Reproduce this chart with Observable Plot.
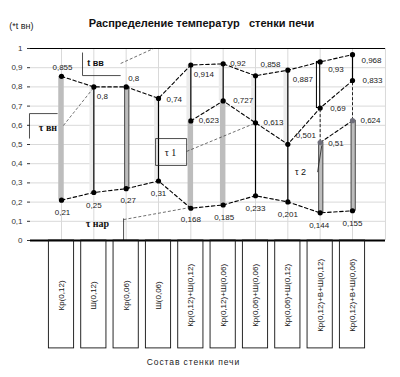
<!DOCTYPE html>
<html><head><meta charset="utf-8">
<script src="https://cdn.jsdelivr.net/npm/d3@7"></script>
<script src="https://cdn.jsdelivr.net/npm/@observablehq/plot@0.6"></script>
<style>body{margin:0;background:#fff;} svg{font-family:"Liberation Sans",Arial,sans-serif;}</style>
</head><body><div id="chart"></div>
<script>
// ---- data ----
const categories = ["Кр(0,12)","Ш(0,12)","Кр(0,06)","Ш(0,06)","Кр(0,12)+Ш(0,12)","Кр(0,12)+Ш(0,06)","Кр(0,06)+Ш(0,06)","Кр(0,06)+Ш(0,12)","Кр(0,12)+В+Ш(0,12)","Кр(0,12)+В+Ш(0,06)"];
const tVn  = [0.855,0.8,0.8,0.74,0.914,0.92,0.858,0.887,0.93,0.968];
const tNar = [0.21,0.25,0.27,0.31,0.168,0.185,0.233,0.201,0.144,0.155];
const tau1 = [null,null,null,null,0.623,0.727,0.613,0.501,0.69,0.833];
const tau2 = [null,null,null,null,null,null,null,null,0.51,0.624];
const yTicks = [0,0.1,0.2,0.3,0.4,0.5,0.6,0.7,0.8,0.9,1];
// layer drawing style per category (outer -> inner)
const layerStyle = [["gray"],["line"],["grayOutline"],["line"],["gray","line"],["gray","line"],["lineOnly","line"],["lineOnly","line"],["grayOutline","gap","box"],["grayOutline","gap","lineOnly"]];
// label placement [anchor, dx, dy]
const tVnPos  = [["middle",1,-9],["start",3,10],["start",2,-8],["start",8,1],["start",3,9],["start",7,0],["start",5,-11],["start",5,9],["start",8,7],["start",9,6]];
const tNarPos = [["middle",1,12],["middle",0,13],["middle",2,12],["middle",0,12],["middle",0,11],["middle",1,12],["middle",0,13],["middle",0,13],["middle",-1,13],["middle",0,13]];
const tau1Pos = [null,null,null,null,["start",8,0],["start",10,0],["start",8,0],["start",8,-9],["start",10,0],["start",10,0]];
const tau2Pos = [null,null,null,null,null,null,null,null,["start",8,1],["start",8,0]];
// annotations (data coordinates)
const annotText = [
  {t:"t вв", x:2.05, y:0.922, font:"Liberation Sans", w:"bold", s:9},
  {t:"τ вн", x:0.58, y:0.585, font:"Liberation Serif", w:"bold", s:10},
  {t:"τ нар", x:2.11, y:0.088, font:"Liberation Serif", w:"bold", s:10},
  {t:"τ 1", x:4.37, y:0.455, font:"Liberation Serif", w:"normal", s:10},
  {t:"τ 2", x:8.39, y:0.354, font:"Liberation Sans", w:"normal", s:9}
];
const annotSegments = [
  [1.65,0.979,1.65,0.859,false],[1.65,0.859,2.83,0.859,false],[2.83,0.922,3.85,1.0,true],
  [0.01,0.661,0.01,0.531,false],[0.01,0.661,0.88,0.661,false],[1.06,0.599,2.0,0.797,true],
  [2.92,0.115,2.92,0.0,false],[2.92,0.109,4.98,0.172,true],
  [3.91,0.531,4.87,0.531,false],[3.91,0.531,3.91,0.391,false],[4.87,0.531,4.87,0.391,false],[3.91,0.391,4.87,0.391,false],[4.87,0.464,7.0,0.612,true],
  [8.92,0.356,9.05,0.495,false]
];

// ---- derived tables ----
function series(vals, pos, name){
  return vals.map((v,i)=>v==null?null:{x:i+1,y:v,s:name,label:String(v).replace(".",","),a:pos[i][0],dx:pos[i][1],dy:pos[i][2]}).filter(d=>d);
}
const sVn = series(tVn,tVnPos,"vn"), sNar = series(tNar,tNarPos,"nar"), s1 = series(tau1,tau1Pos,"t1"), s2 = series(tau2,tau2Pos,"t2");
const layers = [];
layerStyle.forEach((st,i)=>{
  const b = [tNar[i]];
  if (st.length===3) b.push(tau2[i]);
  if (st.length>=2) b.push(tau1[i]);
  b.push(tVn[i]);
  st.forEach((k,j)=>layers.push({cat:i+1,from:b[j],to:b[j+1],kind:k}));
});
const L = k => layers.filter(d=>d.kind===k);
const labels = [...sVn,...sNar,...s1,...s2];
const lineSty = {x:"x",y:"y",stroke:"#000",strokeWidth:1.1,strokeDasharray:"3.5,2.5"};
const fmt = d => d===0?"0":d===1?"1":d.toFixed(1).replace(".",",");

const marks = [
  Plot.ruleY(yTicks.filter(d=>d>0&&d<1),{stroke:"#d9d9d9",strokeWidth:1}),
  Plot.ruleX(categories.map((c,i)=>i+1),{y1:0,y2:1,stroke:"#d9d9d9"}),
  Plot.ruleX([11.02],{y1:0,y2:1,stroke:"#d9d9d9"}),
  Plot.ruleY([1],{stroke:"#000",strokeWidth:1}),
  Plot.axisY({ticks:yTicks,tickFormat:fmt,tickSize:3,tickPadding:5,fontSize:8,color:"#333"}),
  // layers
  Plot.rect(L("gray"),{x1:d=>d.cat-0.085,x2:d=>d.cat+0.085,y1:"from",y2:"to",fill:"#bdbdbd"}),
  Plot.rect(L("grayOutline"),{x1:d=>d.cat-0.03,x2:d=>d.cat+0.1,y1:"from",y2:"to",fill:"#bdbdbd",stroke:"#222",strokeWidth:0.8}),
  Plot.rect(L("line"),{x1:d=>d.cat-0.12,x2:d=>d.cat+0.02,y1:"from",y2:"to",fill:"#ececec"}),
  Plot.ruleX([...L("line"),...L("lineOnly")],{x:"cat",y1:"from",y2:"to",stroke:"#000",strokeWidth:1.2}),
  Plot.ruleX(L("gap"),{x:"cat",y1:"from",y2:"to",stroke:"#222",strokeWidth:1,strokeDasharray:"3,2"}),
  Plot.rect(L("box"),{x1:d=>d.cat-0.1,x2:d=>d.cat,y1:"from",y2:"to",fill:"none",stroke:"#000",strokeWidth:1}),
  // series lines
  Plot.line(sVn,lineSty), Plot.line(sNar,lineSty), Plot.line(s1,lineSty), Plot.line(s2,lineSty),
  // annotations
  Plot.link(annotSegments.filter(d=>!d[4]),{x1:d=>d[0],y1:d=>d[1],x2:d=>d[2],y2:d=>d[3],stroke:"#222",strokeWidth:0.8}),
  Plot.link(annotSegments.filter(d=>d[4]),{x1:d=>d[0],y1:d=>d[1],x2:d=>d[2],y2:d=>d[3],stroke:"#333",strokeWidth:0.7,strokeDasharray:"3,2"}),
  ...annotText.map(a=>Plot.text([a],{x:"x",y:"y",text:"t",fontFamily:a.font,fontWeight:a.w,fontSize:a.s,fill:"#111"})),
  // markers
  Plot.dot([...sVn,...sNar,...s1],{x:"x",y:"y",r:2.6,fill:"#000"}),
  Plot.dot(s2,{x:"x",y:"y",r:2.6,fill:"#6e6e7a"}),
  // value labels
  ...labels.map(d=>Plot.text([d],{x:"x",y:"y",text:"label",dx:d.dx,dy:d.dy,textAnchor:d.a,fontSize:8,fill:"#222"})),
  // x axis base
  Plot.ruleY([0],{stroke:"#000",strokeWidth:2}),
  // category boxes and labels
  Plot.rect(categories,{x1:(d,i)=>i+1-0.39,x2:(d,i)=>i+1+0.39,y1:()=>0,y2:()=>-0.562,fill:"none",stroke:"#111",strokeWidth:0.9}),
  Plot.text(categories,{x:(d,i)=>i+1,y:()=>-0.286,text:d=>d,rotate:-90,fontSize:8,fill:"#111"}),
  // titles
  Plot.text(["Распределение температур   стенки печи"],{x:()=>5.33,y:()=>1.132,text:d=>d,fontSize:11,fontWeight:"bold",fill:"#111"}),
  Plot.text(["(*t вн)"],{x:()=>-0.24,y:()=>1.115,text:d=>d,fontSize:9,fill:"#222"}),
  Plot.text(["Состав стенки печи"],{x:()=>5.08,y:()=>-0.635,text:d=>d,fontSize:8.5,fill:"#222"})
];

const chart = Plot.plot({
  width:400, height:377,
  marginLeft:30, marginRight:15, marginTop:48, marginBottom:137,
  x:{type:"linear",domain:[1,10],range:[61,352],axis:null},
  y:{domain:[0,1],range:[240,48],axis:null},
  style:{fontFamily:"Liberation Sans, Arial, sans-serif",background:"#fff"},
  marks
});
chart.querySelectorAll("text").forEach(t=>{ if(t.textContent==="Состав стенки печи") t.setAttribute("letter-spacing","0.9"); });
document.getElementById("chart").appendChild(chart);
</script></body></html>
